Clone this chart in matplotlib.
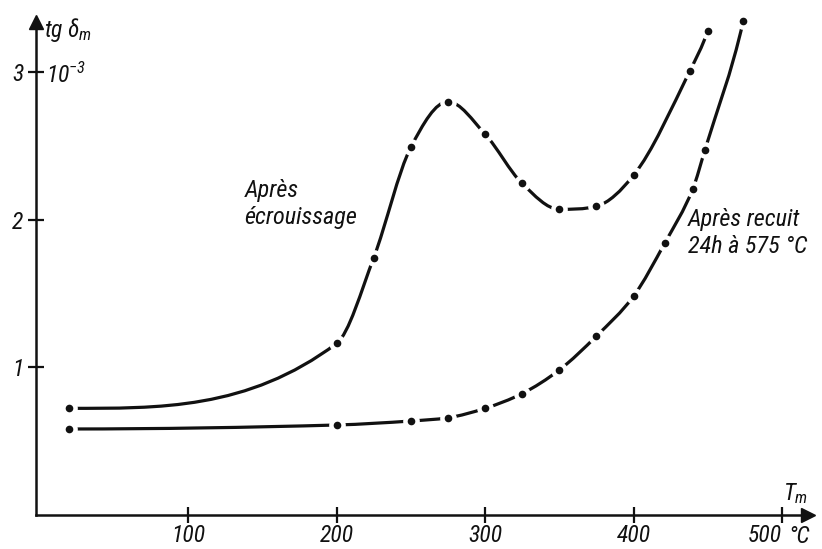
import numpy as np
import matplotlib.pyplot as plt
from matplotlib import font_manager
from matplotlib.path import Path
from matplotlib.patches import PathPatch

# tg delta_m (x 10^-3) against temperature T_m (deg C)
t_hard = [20, 200, 225, 250, 275, 300, 325, 350, 375, 400, 438, 450]
tg_hard = [0.72, 1.16, 1.74, 2.49, 2.80, 2.58, 2.245, 2.07, 2.09, 2.30, 3.01, 3.28]

t_annealed = [20, 200, 250, 275, 300, 325, 350, 375, 400, 421, 440, 448, 474]
tg_annealed = [0.58, 0.607, 0.634, 0.656, 0.72, 0.82, 0.98, 1.21, 1.48, 1.84, 2.21, 2.47, 3.35]

x_ticks = [100, 200, 300, 400, 500]
y_ticks = [1, 2, 3]

installed = {f.name for f in font_manager.fontManager.ttflist}
NARROW = [n for n in ['Roboto Condensed', 'Liberation Sans Narrow', 'DejaVu Sans Condensed']
          if n in installed]
FONT = NARROW[:1] + ['DejaVu Sans']
SCALE = 1.0 if NARROW else 0.82
INK = '#111111'

plt.rcParams['mathtext.fontset'] = 'custom'
plt.rcParams['mathtext.it'] = FONT[0] + ':italic'
plt.rcParams['mathtext.rm'] = FONT[0] + ':italic'
plt.rcParams['mathtext.sf'] = FONT[0] + ':italic'


def hand_slopes(x, y):
    # geometric mean of neighbouring secants, flat at extrema and at the start
    x = np.asarray(x, float)
    y = np.asarray(y, float)
    d = np.diff(y) / np.diff(x)
    m = np.zeros_like(y)
    for k in range(1, len(x) - 1):
        if d[k - 1] * d[k] > 0:
            m[k] = np.sign(d[k]) * np.sqrt(d[k - 1] * d[k])
    m[-1] = d[-1] * 1.3
    return m


def smooth_path(x, y):
    # cubic Bezier segments through the measured points, drawn by matplotlib
    m = hand_slopes(x, y)
    verts = [(x[0], y[0])]
    codes = [Path.MOVETO]
    for k in range(len(x) - 1):
        h = x[k + 1] - x[k]
        verts += [(x[k] + h / 3, y[k] + m[k] * h / 3),
                  (x[k + 1] - h / 3, y[k + 1] - m[k + 1] * h / 3),
                  (x[k + 1], y[k + 1])]
        codes += [Path.CURVE4] * 3
    return Path(verts, codes)


fig = plt.figure(figsize=(8.22, 5.49), dpi=100)
ax = fig.add_axes([36 / 822, 34.5 / 549, 772 / 822, 492.5 / 549])
ax.set_xlim(-2.4, 517.5)
ax.set_ylim(0.0, 3.34)

for xs, ys in [(t_hard, tg_hard), (t_annealed, tg_annealed)]:
    ax.add_patch(PathPatch(smooth_path(xs, ys), fill=False, lw=2.3,
                           color=INK, capstyle='butt', zorder=2, clip_on=False))
    ax.plot(xs, ys, 'o', ms=12, color='white', mec='none', zorder=3, clip_on=False)
    ax.plot(xs, ys, 'o', ms=5.5, color=INK, mec='none', zorder=4, clip_on=False)

for side in ['top', 'right']:
    ax.spines[side].set_visible(False)
for side in ['left', 'bottom']:
    ax.spines[side].set_linewidth(1.8)
    ax.spines[side].set_color(INK)

# arrow heads at the end of both axes
ax.plot(1, 0, '>', color=INK, ms=10, transform=ax.transAxes, clip_on=False, zorder=5)
ax.plot(0, 1, '^', color=INK, ms=10, transform=ax.transAxes, clip_on=False, zorder=5)

ax.set_xticks(x_ticks)
ax.set_yticks(y_ticks)
ax.tick_params(direction='inout', length=12, width=1.6, color=INK, labelcolor=INK)
ax.tick_params(axis='x', pad=1)
ax.tick_params(axis='y', pad=3)
for lab in ax.get_xticklabels() + ax.get_yticklabels():
    lab.set_family(FONT)
    lab.set_style('italic')
    lab.set_fontsize(17 * SCALE)
# last number ends near its tick so the unit fits after it
ax.get_xticklabels()[-1].set_horizontalalignment('right')

txt = dict(family=FONT, style='italic', color=INK)
ax.annotate('°C', xy=(504, 0), xycoords='data', xytext=(0, -7.5),
            textcoords='offset points', fontsize=17 * SCALE, ha='left', va='top',
            annotation_clip=False, **txt)
ax.text(3, 3.285, r'tg $\delta_m$', fontsize=17 * SCALE, va='center', ha='left', **txt)
ax.text(4, 2.93, r'$10^{-3}$', fontsize=17 * SCALE, va='baseline', ha='left', **txt)
ax.text(501, 0.06, r'$T_m$', fontsize=17 * SCALE, va='bottom', ha='left', **txt)
ax.text(138, 2.105, 'Après\nécrouissage', fontsize=17.5 * SCALE, ha='left', va='center',
        linespacing=1.2, **txt)
ax.text(436.5, 1.91, 'Après recuit\n24h à 575 °C', fontsize=17.5 * SCALE, ha='left',
        va='center', linespacing=1.2, **txt)

fig.savefig('out.png', dpi=100)
